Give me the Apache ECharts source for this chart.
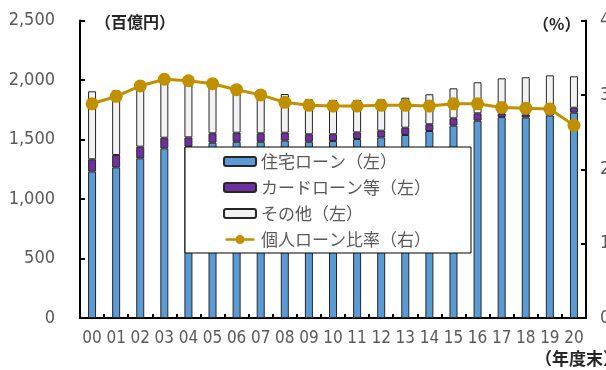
<!DOCTYPE html>
<html>
<head>
<meta charset="utf-8">
<script src="https://cdn.jsdelivr.net/npm/echarts@6/dist/echarts.min.js"></script>
<style>
  html, body { margin: 0; padding: 0; background: #fff; }
  #chart { width: 606px; height: 370px; }
</style>
</head>
<body>
<div id="chart"></div>
<script>
// Fiscal year-end labels
const years = ['00','01','02','03','04','05','06','07','08','09','10',
               '11','12','13','14','15','16','17','18','19','20'];

// Outstanding balances (百億円), stacked
const housingLoans = [1230, 1266, 1342, 1426, 1440, 1473, 1481, 1481, 1490, 1481, 1487,
                      1504, 1518, 1538, 1571, 1616, 1658, 1688, 1685, 1702, 1725];
const cardLoans    = [104, 104, 98, 89, 78, 79, 76, 71, 67, 63, 57,
                      56, 56, 61, 57, 62, 62, 30, 25, 18, 42];
const otherLoans   = [571, 542, 510, 483, 472, 410, 345, 320, 325, 294, 288,
                      272, 264, 252, 252, 252, 261, 296, 313, 319, 264];

// Personal loan ratio (%)
const loanRatio = [2.88, 2.98, 3.12, 3.21, 3.19, 3.15, 3.07, 3.00, 2.90, 2.86, 2.85,
                   2.85, 2.86, 2.86, 2.85, 2.88, 2.88, 2.83, 2.82, 2.81, 2.59];

// Axis ticks
const leftTicks = { min: 0, max: 2500, interval: 500 };
const rightTicks = { min: 0, max: 4, interval: 1 };

const seriesNames = ['住宅ローン（左）', 'カードローン等（左）', 'その他（左）', '個人ローン比率（右）'];

const numFont = "'Liberation Sans Narrow', 'DejaVu Sans Condensed', 'Liberation Sans', sans-serif";
const jpFont = "'Noto Sans CJK JP', sans-serif";
const gray = '#595959';
const edge = '#262626';
const gold = '#C09000';

// Legend glyph for the ratio line: a bar of line with a dot in the middle
const lineDotIcon = 'path://M0,3 L32,3 L32,6 L0,6 Z M11,4.5 A5,5 0 1,1 21,4.5 A5,5 0 1,1 11,4.5 Z';

const chart = echarts.init(document.getElementById('chart'), null, { renderer: 'canvas' });

const barCommon = {
  type: 'bar',
  stack: 'total',
  barWidth: 8,
  yAxisIndex: 0,
  animation: false
};

chart.setOption({
  animation: false,
  grid: { left: 80, right: 20, top: 20.5, bottom: 52, containLabel: false, outerBoundsMode: 'none' },
  legend: {
    orient: 'vertical',
    left: 185,
    top: 147,
    padding: [6, 40, 5, 38],
    itemGap: 9,
    itemWidth: 32,
    itemHeight: 9,
    backgroundColor: '#ffffff',
    borderColor: '#000000',
    borderWidth: 1,
    borderRadius: 0,
    data: [
      seriesNames[0],
      seriesNames[1],
      seriesNames[2],
      { name: seriesNames[3], icon: lineDotIcon, itemStyle: { color: gold, borderWidth: 0 } }
    ],
    textStyle: { fontFamily: jpFont, fontSize: 17, color: gray, lineHeight: 17 }
  },
  xAxis: {
    type: 'category',
    data: years,
    boundaryGap: true,
    axisLine: { lineStyle: { color: '#000', width: 2 } },
    axisTick: { show: true, inside: true, length: 4, lineStyle: { color: '#000', width: 2 } },
    axisLabel: { fontFamily: numFont, fontSize: 17, color: gray, margin: 12, interval: 0 }
  },
  yAxis: [
    {
      type: 'value',
      min: leftTicks.min, max: leftTicks.max, interval: leftTicks.interval,
      splitLine: { show: false },
      axisLine: { show: true, lineStyle: { color: '#000', width: 2 } },
      axisTick: { show: true, inside: true, length: 5, lineStyle: { color: '#000', width: 2 } },
      axisLabel: {
        fontFamily: numFont, fontSize: 18, color: gray, margin: 25,
        formatter: v => v.toLocaleString('en-US')
      }
    },
    {
      type: 'value',
      min: rightTicks.min, max: rightTicks.max, interval: rightTicks.interval,
      splitLine: { show: false },
      axisLine: { show: true, lineStyle: { color: '#000', width: 2 } },
      axisTick: { show: true, inside: true, length: 5, lineStyle: { color: '#000', width: 2 } },
      axisLabel: { fontFamily: numFont, fontSize: 18, color: gray, margin: 14 }
    }
  ],
  series: [
    Object.assign({}, barCommon, {
      name: seriesNames[0],
      data: housingLoans,
      itemStyle: { color: '#5B9BD5', borderColor: edge, borderWidth: 1 }
    }),
    Object.assign({}, barCommon, {
      name: seriesNames[1],
      data: cardLoans,
      itemStyle: { color: '#7030A0', borderColor: edge, borderWidth: 1 }
    }),
    Object.assign({}, barCommon, {
      name: seriesNames[2],
      data: otherLoans,
      itemStyle: { color: '#F2F2F2', borderColor: edge, borderWidth: 1 }
    }),
    {
      name: seriesNames[3],
      type: 'line',
      yAxisIndex: 1,
      data: loanRatio,
      symbol: 'circle',
      symbolSize: 13,
      z: 5,
      lineStyle: { color: gold, width: 3 },
      itemStyle: { color: gold }
    }
  ],
  graphic: [
    {
      type: 'text', left: 95, top: 14,
      style: { text: '（百億円）', font: "bold 16px 'Noto Sans CJK JP'", fill: '#262626' }
    },
    {
      type: 'text', left: 533, top: 16,
      style: { text: '（%）', font: "bold 16px 'Noto Sans CJK JP'", fill: '#262626' }
    },
    {
      type: 'text', left: 535, top: 350,
      style: { text: '（年度末）', font: "bold 17px 'Noto Sans CJK JP'", fill: '#262626' }
    }
  ]
});
</script>
</body>
</html>
